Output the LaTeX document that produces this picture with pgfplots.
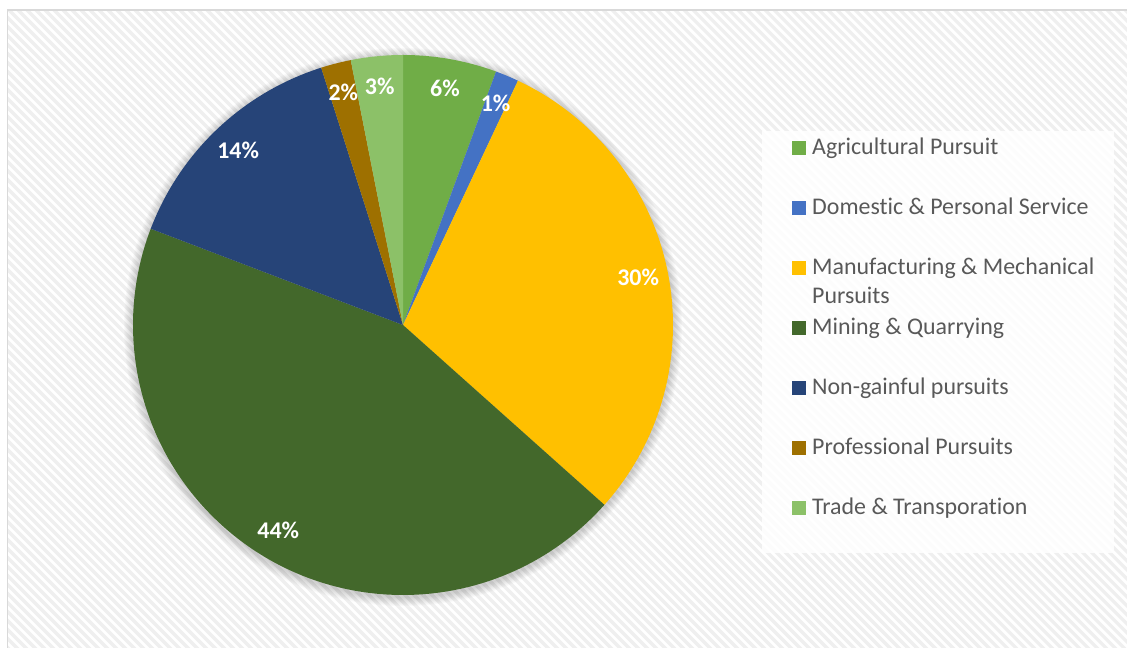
\documentclass[border=0pt]{standalone}
\usepackage{pgfplots}
\pgfplotsset{compat=1.18}
\usepackage{pgfplotstable}
\usepackage{fontspec}
\setmainfont{Carlito}[Ligatures={NoCommon,NoDiscretionary}]

\definecolor{c0}{HTML}{70AD47}
\definecolor{c1}{HTML}{4472C4}
\definecolor{c2}{HTML}{FFC000}
\definecolor{c3}{HTML}{43682B}
\definecolor{c4}{HTML}{264478}
\definecolor{c5}{HTML}{9E7000}
\definecolor{c6}{HTML}{8CC168}
\definecolor{legtext}{HTML}{595959}
\definecolor{stripe}{HTML}{EFEFEF}
\definecolor{frame}{HTML}{D9D9D9}

% share of each category, percent (clockwise from 12 o'clock)
\pgfplotstableread{
idx value
0 5.6
1 1.4
2 29.6
3 44.2
4 14.3
5 1.8
6 3.1
}\piedata

\begin{document}
\begin{tikzpicture}
\useasboundingbox (0,0) rectangle (1127bp,648bp);
\clip (0,0) rectangle (1127bp,648bp);
\fill[white] (0,0) rectangle (1127bp,648bp);
\begin{scope}
\clip (7.5bp,-5bp) rectangle (1135bp,638bp);
\draw[stripe, line width=3.2bp] foreach \k in {-660,-651,...,1140} {(\k bp,650bp) -- ++(670bp,-670bp)};
\end{scope}
\draw[frame, line width=1.5bp] (7.5bp,-5bp) -- (7.5bp,638bp) -- (1135bp,638bp);

% cumulative angles
\def\startang{90}
\foreach \i in {0,...,6}{%
  \pgfplotstablegetelem{\i}{value}\of\piedata
  \let\val\pgfplotsretval
  \pgfmathsetmacro\endang{\startang-3.6*\val}
  \pgfmathsetmacro\midang{(\startang+\endang)/2}
  \pgfmathparse{int(round(\val))}
  \expandafter\xdef\csname pc\i\endcsname{\pgfmathresult}
  \expandafter\xdef\csname sa\i\endcsname{\startang}
  \expandafter\xdef\csname ea\i\endcsname{\endang}
  \expandafter\xdef\csname ma\i\endcsname{\midang}
  \xdef\startang{\endang}
}

\begin{axis}[
  at={(0,0)}, anchor=south west,
  scale only axis, width=1127bp, height=648bp,
  xmin=0, xmax=1127, ymin=0, ymax=648,
  hide axis, clip=false,
]
% soft shadow
\pgfplotsinvokeforeach{1,...,9}{
  \fill[black, opacity=0.018] (axis cs:403,321) circle[radius={270bp+#1bp}];
}
% slices
\pgfplotsinvokeforeach{0,...,6}{
  \fill[c#1] (axis cs:403,323) -- ++(\csname sa#1\endcsname:270bp)
     arc[start angle=\csname sa#1\endcsname, end angle=\csname ea#1\endcsname, radius=270bp] -- cycle;
}
% labels
\pgfplotsinvokeforeach{0,...,6}{
  \path (axis cs:403,323) ++(\csname ma#1\endcsname:240bp)
     node[text=white, font=\bfseries\fontsize{24}{28}\selectfont, inner sep=0] {\csname pc#1\endcsname\%};
}
% legend
\fill[white, opacity=0.85] (axis cs:762,95) rectangle (axis cs:1114,517);
\pgfplotsinvokeforeach{0,...,6}{
  \fill[c#1] (axis cs:792,{493-60*#1}) rectangle (axis cs:806,{507-60*#1});
}
\begin{scope}[every node/.style={anchor=base west, inner sep=0, text=legtext, font=\fontsize{24}{29}\selectfont, align=left}]
\node at (axis cs:812,493) {Agricultural Pursuit};
\node at (axis cs:812,433) {Domestic \& Personal Service};
\node at (axis cs:812,373) {Manufacturing \& Mechanical};
\node at (axis cs:812,344) {Pursuits};
\node at (axis cs:812,313) {Mining \& Quarrying};
\node at (axis cs:812,253) {Non-gainful pursuits};
\node at (axis cs:812,193) {Professional Pursuits};
\node at (axis cs:812,133) {Trade \& Transporation};
\end{scope}
\end{axis}
\end{tikzpicture}
\end{document}
